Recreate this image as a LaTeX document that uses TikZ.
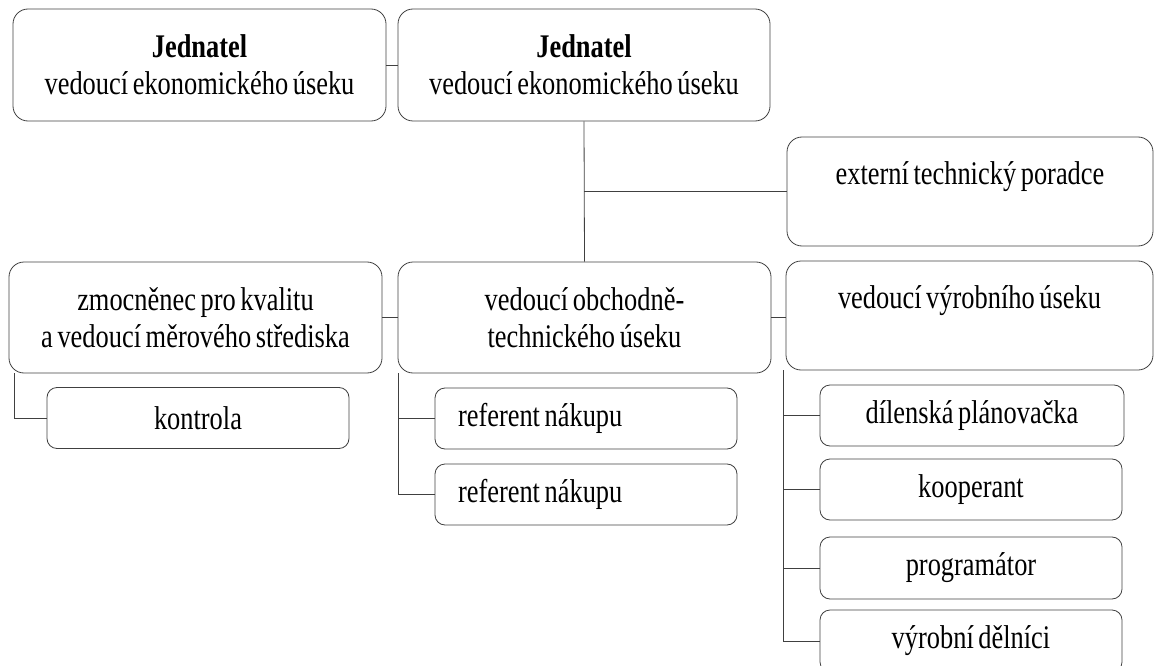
\documentclass[tikz,border=0pt]{standalone}
\usepackage{fontspec}
\setmainfont{Liberation Serif}[FakeStretch=0.8, WordSpace=0.7]
\usetikzlibrary{positioning, calc}

\begin{document}
\begin{tikzpicture}[
    x=1pt, y=-1pt,
    box/.style={draw=black!75, line width=0.8pt, rounded corners=15pt, align=center, inner sep=0pt,
        font=\fontsize{33}{37}\selectfont},
    smallbox/.style={box, rounded corners=10pt, minimum width=302pt, minimum height=61pt},
    link/.style={draw=black!75, line width=0.8pt}
]
    \useasboundingbox (0, 0) rectangle (1154, 666);

    % Top row
    \node[box, minimum width=373pt, minimum height=112pt] (jed1) at (199.5, 65)
        {\textbf{Jednatel}\\vedoucí ekonomického úseku};
    \node[box, minimum width=372pt, minimum height=112pt] (jed2) at (584, 65)
        {\textbf{Jednatel}\\vedoucí ekonomického úseku};
    \node[box, minimum width=366pt, minimum height=109pt] (extern) at (970, 191.5)
        {externí technický poradce\\~};

    % Second row
    \node[box, minimum width=373pt, minimum height=111pt] (kvalita) at (195.5, 317.5)
        {zmocněnec pro kvalitu\\a vedoucí měrového střediska};
    \node[box, minimum width=373pt, minimum height=111pt] (obchod) at (584.5, 317.5)
        {vedoucí obchodně-\\technického úseku};
    \node[box, minimum width=367pt, minimum height=109pt] (vyroba) at (969.5, 315.5)
        {vedoucí výrobního úseku\\~};

    % Subordinates
    \node[smallbox] (kontrola) at (198, 418) {kontrola};
    \node[smallbox, align=flush left, text width=256pt] (ref1) at (586, 418.5) {referent nákupu};
    \node[smallbox, align=flush left, text width=256pt] (ref2) at (586, 494.5) {referent nákupu};
    \node[smallbox, minimum width=304pt] (plan) at (972, 415.5) {dílenská plánovačka};
    \node[smallbox] (koop) at (971, 489.5) {kooperant};
    \node[smallbox, minimum height=62pt] (prog) at (971, 568) {programátor};
    \node[smallbox, minimum height=62pt] (delnici) at (971, 641) {výrobní dělníci};

    % Connectors
    \draw[link] (jed1) -- (jed2);
    \draw[link] (jed2.south) -- (obchod.north);
    \draw[link] (extern.west) -- (extern.west -| jed2.south);
    \draw[link] (kvalita) -- (obchod);
    \draw[link] (obchod.east) -- (obchod.east -| vyroba.west);

    \coordinate (ktrunk) at ([xshift=6pt]kvalita.south west);
    \draw[link] (ktrunk) |- (kontrola.west);

    \coordinate (otrunk) at ([xshift=1pt]obchod.south west);
    \draw[link] (otrunk) |- (ref2.west);
    \draw[link] (ref1.west) -- (ref1.west -| otrunk);

    \coordinate (vtrunk) at ([xshift=-2pt]vyroba.south west);
    \draw[link] (vtrunk) |- (delnici.west);
    \foreach \n in {plan, koop, prog}
        \draw[link] (\n.west) -- (\n.west -| vtrunk);

\end{tikzpicture}
\end{document}
